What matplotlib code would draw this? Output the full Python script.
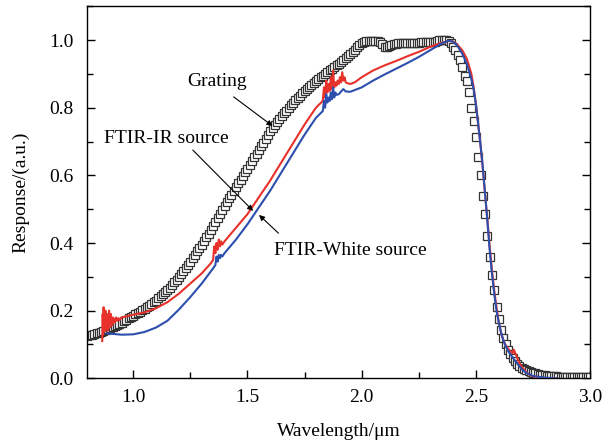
import numpy as np
import matplotlib
matplotlib.use("Agg")
import matplotlib.pyplot as plt
from matplotlib.ticker import MultipleLocator

plt.rcParams['font.family'] = ['Liberation Serif', 'DejaVu Serif']
plt.rcParams['mathtext.fontset'] = 'stix'

# ---------------- data ----------------
grating_x = [round(0.80 + 0.01 * i, 2) for i in range(221)]
grating_y = [
    0.125, 0.127, 0.129, 0.131, 0.133, 0.135, 0.137, 0.140, 0.142, 0.145,
    0.148, 0.151, 0.154, 0.158, 0.161, 0.165, 0.169, 0.173, 0.177, 0.181,
    0.185, 0.189, 0.193, 0.197, 0.201, 0.205, 0.210, 0.215, 0.220, 0.225,
    0.230, 0.236, 0.242, 0.248, 0.254, 0.260, 0.268, 0.276, 0.284, 0.292,
    0.300, 0.309, 0.318, 0.327, 0.336, 0.345, 0.355, 0.365, 0.375, 0.385,
    0.395, 0.406, 0.417, 0.428, 0.439, 0.450, 0.462, 0.474, 0.486, 0.498,
    0.510, 0.521, 0.532, 0.543, 0.554, 0.565, 0.576, 0.587, 0.598, 0.609,
    0.620, 0.631, 0.642, 0.653, 0.664, 0.675, 0.686, 0.697, 0.708, 0.719,
    0.730, 0.739, 0.748, 0.757, 0.766, 0.775, 0.783, 0.791, 0.799, 0.807,
    0.815, 0.822, 0.829, 0.836, 0.843, 0.850, 0.856, 0.862, 0.868, 0.874,
    0.880, 0.885, 0.890, 0.895, 0.900, 0.905, 0.910, 0.915, 0.920, 0.925,
    0.930, 0.936, 0.942, 0.948, 0.954, 0.960, 0.966, 0.972, 0.978, 0.984,
    0.990, 0.994, 0.997, 0.998, 0.998, 0.998, 0.997, 0.996, 0.994, 0.988,
    0.980, 0.979, 0.982, 0.985, 0.987, 0.989, 0.990, 0.990, 0.990, 0.990,
    0.990, 0.991, 0.991, 0.992, 0.992, 0.992, 0.993, 0.993, 0.994, 0.994,
    0.995, 0.995, 0.994, 0.997, 0.999, 1.000, 1.000, 0.999, 0.997, 0.992,
    0.980, 0.970, 0.955, 0.940, 0.920, 0.895, 0.880, 0.845, 0.800, 0.760,
    0.714, 0.655, 0.600, 0.540, 0.485, 0.420, 0.360, 0.305, 0.260, 0.210,
    0.175, 0.143, 0.120, 0.100, 0.085, 0.072, 0.060, 0.050, 0.042, 0.036,
    0.031, 0.027, 0.024, 0.021, 0.019, 0.017, 0.015, 0.013, 0.011, 0.010,
    0.009, 0.008, 0.007, 0.007, 0.006, 0.006, 0.005, 0.005, 0.005, 0.005,
    0.004, 0.004, 0.004, 0.004, 0.004, 0.004, 0.004, 0.004, 0.004, 0.004,
    0.004,
]

ir_x = [0.865, 0.867, 0.869, 0.871, 0.873, 0.875, 0.877, 0.879, 0.881, 0.883,
        0.885, 0.887, 0.889, 0.891, 0.893, 0.895, 0.897, 0.899, 0.901, 0.903,
        0.905, 0.907, 0.909, 0.911, 0.913, 0.915, 0.918, 0.920, 0.925, 0.930,
        0.935, 0.940, 0.950, 0.970, 1.000, 1.050, 1.100, 1.150, 1.200, 1.250,
        1.300, 1.340, 1.350, 1.355, 1.360, 1.365, 1.370, 1.375, 1.380, 1.385,
        1.390, 1.395, 1.400, 1.450, 1.500, 1.550, 1.600, 1.650, 1.700, 1.750,
        1.800, 1.830, 1.835, 1.840, 1.845, 1.850, 1.855, 1.860, 1.865, 1.870,
        1.875, 1.880, 1.885, 1.890, 1.895, 1.900, 1.905, 1.910, 1.915, 1.920,
        1.925, 1.930, 1.940, 1.950, 1.970, 2.000, 2.050, 2.100, 2.150, 2.200,
        2.250, 2.300, 2.350, 2.380, 2.400, 2.420, 2.440, 2.460, 2.480, 2.490,
        2.500, 2.510, 2.520, 2.530, 2.540, 2.550, 2.560, 2.570, 2.580, 2.590,
        2.600, 2.610, 2.620, 2.630, 2.640, 2.650, 2.660, 2.665, 2.675, 2.690,
        2.700, 2.720, 2.740, 2.770, 2.800, 2.850]
ir_y = [0.110, 0.190, 0.130, 0.210, 0.150, 0.180, 0.140, 0.200, 0.160, 0.190,
        0.150, 0.170, 0.140, 0.190, 0.160, 0.200, 0.150, 0.180, 0.160, 0.190,
        0.155, 0.175, 0.160, 0.180, 0.165, 0.170, 0.175, 0.165, 0.180, 0.170,
        0.178, 0.172, 0.180, 0.183, 0.188, 0.195, 0.207, 0.225, 0.250, 0.280,
        0.310, 0.340, 0.350, 0.390, 0.370, 0.400, 0.380, 0.410, 0.390, 0.405,
        0.395, 0.400, 0.405, 0.445, 0.485, 0.535, 0.585, 0.640, 0.695, 0.750,
        0.800, 0.820, 0.860, 0.830, 0.880, 0.845, 0.870, 0.850, 0.890, 0.855,
        0.910, 0.860, 0.875, 0.865, 0.880, 0.870, 0.890, 0.875, 0.905, 0.880,
        0.890, 0.875, 0.872, 0.870, 0.875, 0.890, 0.910, 0.925, 0.938, 0.952,
        0.965, 0.980, 0.992, 0.997, 0.996, 0.985, 0.970, 0.945, 0.900, 0.860,
        0.810, 0.750, 0.690, 0.620, 0.545, 0.470, 0.390, 0.320, 0.260, 0.210,
        0.165, 0.135, 0.112, 0.098, 0.088, 0.080, 0.074, 0.085, 0.070, 0.045,
        0.035, 0.018, 0.008, 0.003, 0.001, 0.000]

white_x = [0.887, 0.900, 0.950, 1.000, 1.050, 1.100, 1.150, 1.200, 1.250, 1.300,
           1.350, 1.360, 1.365, 1.370, 1.375, 1.380, 1.385, 1.390, 1.400, 1.450,
           1.500, 1.550, 1.600, 1.650, 1.700, 1.750, 1.800, 1.830, 1.835, 1.840,
           1.845, 1.850, 1.855, 1.860, 1.865, 1.870, 1.875, 1.880, 1.885, 1.890,
           1.900, 1.910, 1.920, 1.930, 1.950, 2.000, 2.050, 2.100, 2.150, 2.200,
           2.250, 2.300, 2.350, 2.380, 2.400, 2.420, 2.440, 2.460, 2.480, 2.490,
           2.500, 2.510, 2.520, 2.530, 2.540, 2.550, 2.560, 2.570, 2.580, 2.590,
           2.600, 2.610, 2.620, 2.630, 2.640, 2.650, 2.660, 2.680, 2.700, 2.720,
           2.750, 2.800, 2.850]
white_y = [0.133, 0.132, 0.129, 0.130, 0.137, 0.150, 0.170, 0.203, 0.240, 0.280,
           0.325, 0.335, 0.360, 0.345, 0.365, 0.355, 0.365, 0.360, 0.370, 0.410,
           0.455, 0.505, 0.555, 0.610, 0.665, 0.720, 0.770, 0.790, 0.820, 0.800,
           0.840, 0.815, 0.830, 0.820, 0.845, 0.825, 0.860, 0.830, 0.845, 0.838,
           0.840, 0.848, 0.855, 0.848, 0.847, 0.860, 0.880, 0.898, 0.915, 0.932,
           0.950, 0.970, 0.990, 0.998, 0.995, 0.982, 0.960, 0.930, 0.885, 0.855,
           0.810, 0.750, 0.690, 0.625, 0.545, 0.465, 0.380, 0.310, 0.250, 0.200,
           0.165, 0.135, 0.112, 0.095, 0.082, 0.072, 0.062, 0.044, 0.028, 0.016,
           0.007, 0.002, 0.000]

x_ticks = [1.0, 1.5, 2.0, 2.5, 3.0]
y_ticks = [0.0, 0.2, 0.4, 0.6, 0.8, 1.0]

# ---------------- figure ----------------
fig = plt.figure(figsize=(6.11, 4.43), dpi=100)
ax = fig.add_axes([0.143, 0.146, 0.823, 0.840])

ax.plot(grating_x, grating_y, linestyle='none', marker='s', markersize=5.5,
        markerfacecolor='white', markeredgecolor='#333333', markeredgewidth=0.9,
        zorder=2)
ax.plot(ir_x, ir_y, color='#e8312b', lw=1.5, zorder=3)
ax.plot(white_x, white_y, color='#2c4fae', lw=1.5, zorder=3)

ax.set_xlim(0.8, 3.0)
ax.set_ylim(0.0, 1.1)
ax.set_xticks(x_ticks)
ax.set_yticks(y_ticks)
ax.set_xticklabels([f"{v:.1f}" for v in x_ticks])
ax.set_yticklabels([f"{v:.1f}" for v in y_ticks])
ax.xaxis.set_minor_locator(MultipleLocator(0.25))
ax.yaxis.set_minor_locator(MultipleLocator(0.1))
ax.tick_params(which='both', direction='in', right=True, top=False,
               labelsize=14, width=1.0)
ax.tick_params(axis='x', which='major', length=6, pad=8)
ax.tick_params(axis='y', which='major', length=6, pad=10)
ax.tick_params(which='minor', length=4)
for s in ax.spines.values():
    s.set_linewidth(1.0)

ax.set_xlabel('Wavelength/\u03bcm', fontsize=14, labelpad=12)
ax.set_ylabel('Response/(a.u.)', fontsize=14, labelpad=14)

arrow = dict(arrowstyle='-|>', color='black', lw=0.8,
             mutation_scale=8, shrinkA=0, shrinkB=0)
ax.text(1.367, 0.876, 'Grating', fontsize=14, ha='center', va='center')
ax.annotate('', xy=(1.61, 0.746), xytext=(1.44, 0.832), arrowprops=arrow)
ax.text(1.146, 0.71, 'FTIR-IR source', fontsize=14, ha='center', va='center')
ax.annotate('', xy=(1.525, 0.495), xytext=(1.261, 0.675), arrowprops=arrow)
ax.text(1.951, 0.377, 'FTIR-White source', fontsize=14, ha='center', va='center')
ax.annotate('', xy=(1.551, 0.483), xytext=(1.636, 0.429), arrowprops=arrow)

fig.savefig('out.png', dpi=100)
